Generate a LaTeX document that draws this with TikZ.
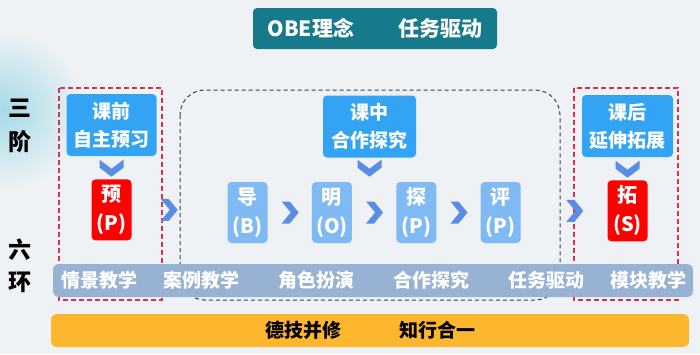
\documentclass[tikz,border=0pt]{standalone}
\usepackage{fontspec}
\setmainfont{Noto Sans CJK SC}
\usetikzlibrary{positioning,calc}
\definecolor{bgGray}{HTML}{EEF2F5}
\definecolor{blobTeal}{HTML}{A6DAE6}
\definecolor{titleTeal}{HTML}{177A8A}
\definecolor{stageBlue}{HTML}{33A3F4}
\definecolor{linkBlue}{HTML}{80BAF5}
\definecolor{keyRed}{HTML}{FF0000}
\definecolor{chevBlue}{HTML}{5A8DE4}
\definecolor{bandBlue}{HTML}{97B2D3}
\definecolor{barOrange}{HTML}{FDB72E}
\definecolor{dashRed}{HTML}{D8334A}
\tikzset{
  stagebox/.style={fill=stageBlue,rounded corners=4pt,text=white,align=center,inner sep=0pt,
    font=\fontsize{19}{28}\selectfont\bfseries,minimum width=90pt,minimum height=62pt},
  linkbox/.style={fill=linkBlue,rounded corners=4pt,text=white,align=center,inner sep=0pt,
    font=\fontsize{20}{29}\selectfont\bfseries,minimum width=40pt,minimum height=61pt},
  keybox/.style={linkbox,fill=keyRed},
  chev/.style={fill=chevBlue},
  reddash/.style={draw=dashRed,line width=1.3pt,dash pattern=on 5pt off 3pt},
  graydash/.style={draw=black!75,line width=1pt,dash pattern=on 4pt off 3pt,rounded corners=25pt},
  bandtext/.style={text=white,font=\fontsize{19}{22}\selectfont\bfseries},
  sidetext/.style={align=center,font=\fontsize{23}{34}\selectfont\bfseries}
}
\newcommand{\chevright}[1]{\fill[chev,shift={#1}] (-8,-11) -- (1,0) -- (-8,11) -- (0,11) -- (9,0) -- (0,-11) -- cycle;}
\newcommand{\chevdown}[1]{\fill[chev,shift={#1}] (-12,-8) -- (0,1) -- (12,-8) -- (12,0) -- (0,9) -- (-12,0) -- cycle;}

\begin{document}
\begin{tikzpicture}[x=1pt,y=-1pt]
\useasboundingbox (0,0) rectangle (700,354);
\begin{scope}
\clip (0,0) rectangle (700,354);
\fill[bgGray] (0,0) rectangle (700,354);
\shade[inner color=blobTeal,outer color=bgGray] (5,110) circle (80);
\end{scope}

% title
\node[fill=titleTeal,rounded corners=4pt,text=white,minimum width=244pt,minimum height=41pt,
  font=\fontsize{21}{24}\selectfont\bfseries] (title) at (375,28.5) {OBE理念\hspace{44pt}任务驱动};

% side labels
\node[sidetext] (sanjie) at (20,125.5) {三\\阶};
\node[sidetext,font=\fontsize{23}{32}\selectfont\bfseries] (liuhuan) at (20,266) {六\\环};

% frames
\draw[reddash] (59,88) rectangle (162,300);
\draw[reddash] (574,88) rectangle (678,300);
\draw[graydash] (180,90) rectangle (560,300);

% six methods
\node[fill=bandBlue,rounded corners=6pt,minimum width=640pt,minimum height=33pt] (band) at (373,280.5) {};
\foreach \name/\x/\txt in {m1/99/情景教学,m2/201/案例教学,m3/316/角色扮演,m4/431/合作探究,m5/546/任务驱动,m6/648/模块教学}
  \node[bandtext] (\name) at (\x,280.5) {\txt};

\node[fill=barOrange,rounded corners=6pt,minimum width=638pt,minimum height=33pt,
  font=\fontsize{19}{22}\selectfont\bfseries] (bar) at (370,330.5) {德技并修\hspace{58pt}知行合一};

% three stages
\node[stagebox] (qian) at (111.5,125) {课前\\自主预习};
\node[stagebox,minimum width=93pt] (zhong) at (369.5,126.5) {课中\\合作探究};
\node[stagebox,minimum width=91pt] (hou) at (627.5,126) {课后\\延伸拓展};

\node[keybox,below=23pt of qian] (yu) {预\\(P)};
\node[keybox,below=23pt of hou] (tuo) {拓\\(S)};
\node[linkbox] (dao) at (247.5,212.5) {导\\(B)};
\node[linkbox,right=44pt of dao] (ming) {明\\(O)};
\node[linkbox,right=44pt of ming] (tan) {探\\(P)};
\node[linkbox,right=44pt of tan] (ping) {评\\(P)};

\chevdown{($(qian.south)!0.5!(yu.north)$)}
\chevdown{($(zhong.south)+(0,10)$)}
\chevdown{($(hou.south)!0.5!(tuo.north)$)}
\chevright{($(yu.east)+(37,0)$)}
\chevright{($(dao.east)!0.5!(ming.west)$)}
\chevright{($(ming.east)!0.5!(tan.west)$)}
\chevright{($(tan.east)!0.5!(ping.west)$)}
\chevright{($(tuo.west)+(-33,0)$)}
\end{tikzpicture}
\end{document}
